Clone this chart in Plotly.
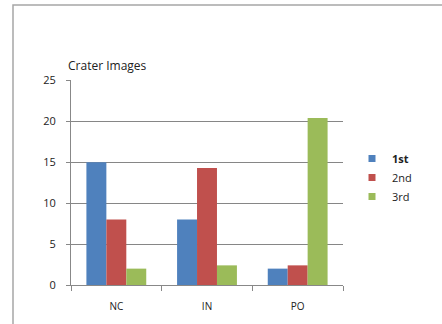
import plotly.graph_objects as go

categories = ["NC", "IN", "PO"]
series_names = ["1st", "2nd", "3rd"]
first = [15, 8, 2]
second = [8, 14.3, 2.4]
third = [2, 2.4, 20.4]
colors = ["#4F81BD", "#C0504D", "#9BBB59"]
legend_labels = ["<b>1st</b>", "2nd", "3rd"]
y_ticks = [0, 5, 10, 15, 20, 25]

fig = go.Figure()
for name, vals, col in zip(series_names, [first, second, third], colors):
    fig.add_trace(go.Bar(x=categories, y=vals, name=name, showlegend=False,
                         marker=dict(color=col, line=dict(width=0))))
# legend entries with small square swatches
for lab, col in zip(legend_labels, colors):
    fig.add_trace(go.Scatter(x=[None], y=[None], mode="markers", name=lab,
                             marker=dict(symbol="square", size=7, color=col)))

W, H = 442, 324
L, R, T, B = 71, 99, 80, 39
pw = W - L - R
ph = H - T - B

def px(x):
    return (x - L) / pw

def py(y):
    return (H - B - y) / ph

fig.update_layout(
    width=W, height=H,
    margin=dict(l=L, r=R, t=T, b=B),
    paper_bgcolor="white", plot_bgcolor="white",
    barmode="group", bargap=0.34, bargroupgap=0,
    font=dict(family="Open Sans, Noto Sans, sans-serif", size=10, color="#222222"),
    showlegend=True,
    legend=dict(x=px(352), y=py(144), xanchor="left", yanchor="top",
                font=dict(size=11, color="#222222"), itemwidth=30,
                tracegroupgap=2, bgcolor="rgba(0,0,0,0)"),
    xaxis=dict(type="category", showline=True, linecolor="#888888", linewidth=1,
               ticks="outside", tickson="boundaries", ticklen=5, tickcolor="#888888",
               showgrid=False, tickfont=dict(size=10), ticklabelstandoff=12),
    yaxis=dict(range=[0, 25.05], tickvals=y_ticks, showline=True, linecolor="#888888", linewidth=1,
               ticks="outside", ticklen=4, tickcolor="#888888",
               showgrid=True, gridcolor="#868686", gridwidth=1, zeroline=False,
               tickfont=dict(size=11), ticklabelstandoff=8),
    shapes=[dict(type="rect", xref="paper", yref="paper",
                 x0=px(13), x1=px(460), y0=py(340), y1=py(5),
                 line=dict(color="#A6A6A6", width=1.5), fillcolor="rgba(0,0,0,0)", layer="below")],
    annotations=[dict(text="Crater Images", xref="paper", yref="paper",
                      x=px(66), y=py(66), xanchor="left", yanchor="middle",
                      showarrow=False, font=dict(size=12, color="#222222"))],
)

fig.write_html("out.html")
